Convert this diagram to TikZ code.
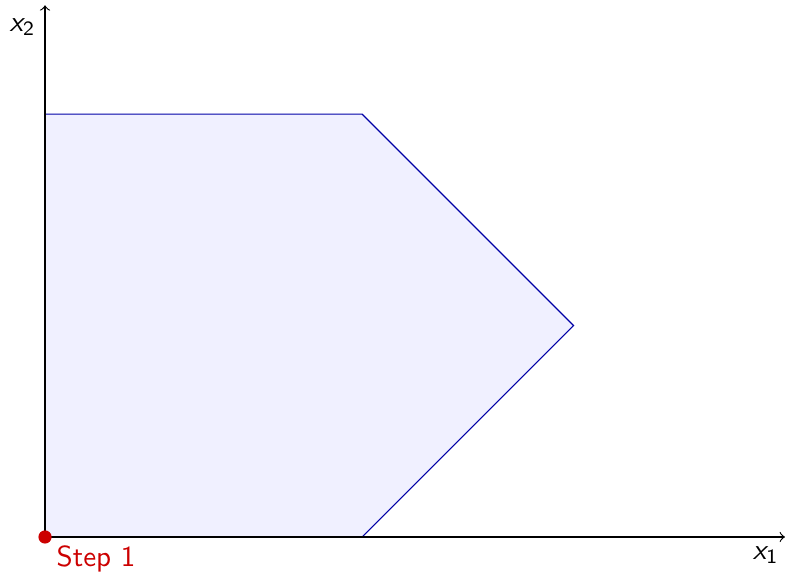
\documentclass[tikz,border=0pt]{standalone}
\begin{document}
\begin{tikzpicture}[x=1.28cm,y=1.28cm,font=\sffamily,
  region/.style={draw=blue!65!black,fill=blue!6,line width=0.4pt},
  axis/.style={->,line width=0.4pt},
  stepdot/.style={circle,fill=red!80!black,inner sep=0pt,minimum size=0.16cm},
  steplabel/.style={text=red!80!black}]
\useasboundingbox (-0.426,-0.34) rectangle (7.01,5.08);
\coordinate (O) at (0,0);
\coordinate (A) at (3,0);
\coordinate (B) at (5,2);
\coordinate (C) at (3,4);
\coordinate (D) at (0,4);
\coordinate (X) at (7,0);
\coordinate (Y) at (0,5.03);
\filldraw[region] (O) -- (A) -- (B) -- (C) -- (D) -- cycle;
\draw[axis] (O) -- (X);
\draw[axis] (O) -- (Y);
\node[anchor=north east,inner sep=2pt] (xl) at ([yshift=-0.04cm]X) {{\itshape x}\textsubscript{1}};
\node[anchor=north east,inner sep=2pt] (yl) at ([xshift=-0.04cm,yshift=-0.08cm]Y) {{\itshape x}\textsubscript{2}};
\node[stepdot] (p) at (O) {};
\node[steplabel,anchor=north west,inner sep=2pt] (s) at (0.05,-0.02) {Step 1};
\end{tikzpicture}
\end{document}
